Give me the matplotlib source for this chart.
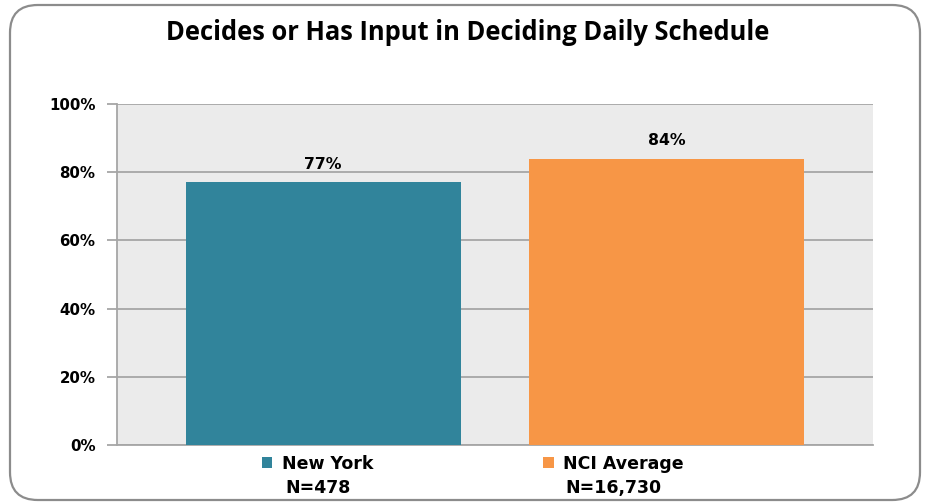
import matplotlib
matplotlib.use("Agg")
import matplotlib.pyplot as plt
from matplotlib.patches import FancyBboxPatch, Patch
from matplotlib.ticker import FuncFormatter

# data
groups = ["New York", "NCI Average"]
sample_sizes = ["N=478", "N=16,730"]
percents = [77, 84]
colors = ["#31849B", "#F79646"]
yticks = [0, 20, 40, 60, 80, 100]

plt.rcParams['font.family'] = 'DejaVu Sans'

fig = plt.figure(figsize=(9.26, 5.04), dpi=100)
fig.patch.set_facecolor("white")

# rounded frame around the whole chart
frame = FancyBboxPatch((10 / 926, 4 / 504), 910 / 926, 495 / 504,
                       boxstyle="round,pad=0,rounding_size=0.03",
                       transform=fig.transFigure, facecolor="none",
                       edgecolor="#8c8c8c", linewidth=1.6, mutation_aspect=926 / 504)
fig.patches.append(frame)

ax = fig.add_axes([117 / 926, 1 - 445 / 504, 756 / 926, 341 / 504])
ax.set_facecolor("#EBEBEB")

x = list(range(len(groups)))
bars = ax.bar(x, percents, width=0.8, color=colors, zorder=3)

ax.set_xlim(-0.6, 1.6)
ax.set_ylim(0, 100)
ax.set_yticks(yticks)
ax.yaxis.set_major_formatter(FuncFormatter(lambda v, p: f"{v:.0f}%"))
ax.set_xticks([])
ax.grid(axis="y", color="#a6a6a6", linewidth=1.3, zorder=1)
ax.tick_params(axis="y", length=7, width=1.3, color="#a6a6a6", pad=8.5,
               labelsize=10.8)
for lab in ax.get_yticklabels():
    lab.set_fontweight("bold")
for side in ["top", "right"]:
    ax.spines[side].set_visible(False)
ax.spines["left"].set_color("#a6a6a6")
ax.spines["left"].set_linewidth(1.3)
ax.spines["bottom"].set_color("#a6a6a6")
ax.spines["bottom"].set_linewidth(1.3)

for b, v in zip(bars, percents):
    ax.annotate(f"{v}%", (b.get_x() + b.get_width() / 2, v),
                xytext=(0, 13), textcoords="offset points",
                ha="center", va="center", fontsize=11.3, fontweight="bold")

fig.text(468 / 926, 1 - 33 / 504, "Decides or Has Input in Deciding Daily Schedule",
         ha="center", va="center", fontsize=18.4, fontweight="bold",
         family="Open Sans")

handles = [Patch(facecolor=c) for c in colors]
leg = fig.legend(handles, groups, loc="center", bbox_to_anchor=(473 / 926, 1 - 464 / 504),
                 ncol=2, frameon=False, handlelength=0.6,
                 handleheight=0.6, handletextpad=0.55, columnspacing=9.8,
                 prop={"weight": "bold", "size": 12.5})

fig.canvas.draw()
renderer = fig.canvas.get_renderer()
for h, t, n in zip(leg.legend_handles, leg.get_texts(), sample_sizes):
    hb = h.get_window_extent(renderer)
    tb = t.get_window_extent(renderer)
    cx = (hb.x0 + tb.x1) / 2 / fig.bbox.width
    fig.text(cx, 1 - 488 / 504, n, ha="center", va="center",
             fontsize=12.5, fontweight="bold")

fig.savefig("out.png", dpi=100)
